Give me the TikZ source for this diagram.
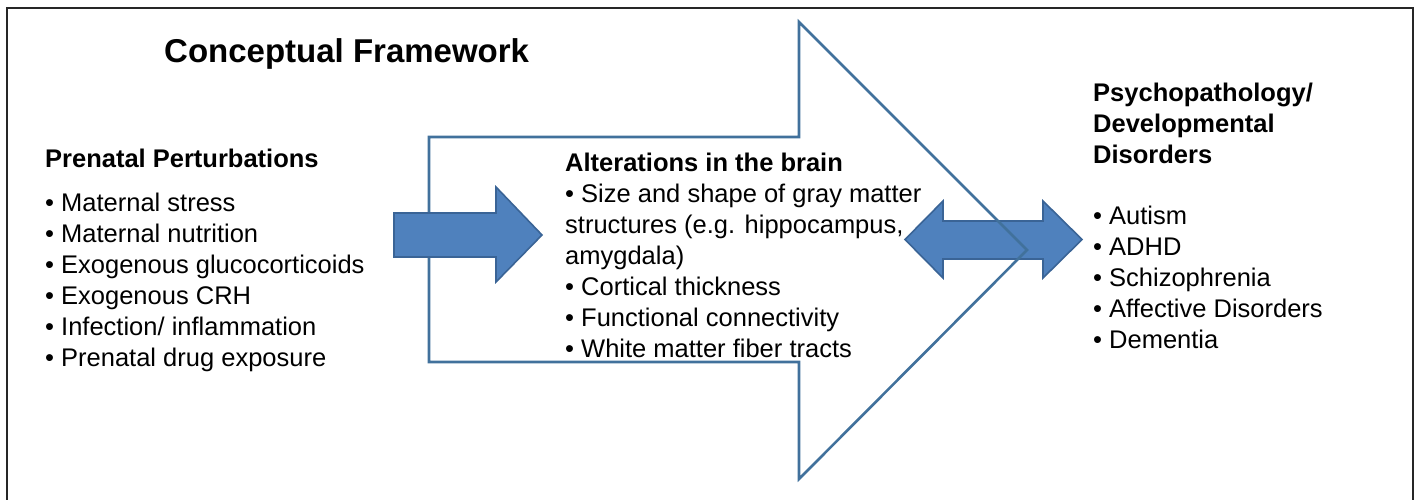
\documentclass[tikz,border=0pt]{standalone}
\usepackage{fontspec}
\setmainfont{Liberation Sans}
\definecolor{afill}{HTML}{4F81BD}
\definecolor{aline}{HTML}{3A6496}
\definecolor{oline}{HTML}{41719C}
\begin{document}
\begin{tikzpicture}[x=1pt,y=-1pt,
  txt/.style={anchor=base west,inner sep=0pt,font=\fontsize{25.5}{31}\selectfont},
  hd/.style={txt,font=\fontsize{25.5}{31}\selectfont\bfseries},
  fillarrow/.style={fill=afill,draw=aline,line width=1.6pt,line join=miter},
  bigarrow/.style={draw=oline,line width=2.6pt,line join=miter}]
\useasboundingbox (0,0) rectangle (1418,499);
\clip (0,0) rectangle (1418,499);
% frame
\draw[line width=2.6pt,black!85] (7,8) rectangle (1413,530);
% title
\node[anchor=base west,inner sep=0pt,font=\fontsize{33}{40}\selectfont\bfseries] (title) at (164,62) {Conceptual Framework};
% double arrow (behind big outline)
\draw[fillarrow] (905,239.5) -- (943,201) -- (943,221) -- (1043,221) -- (1043,201) -- (1082,239.5)
  -- (1043,278) -- (1043,259) -- (943,259) -- (943,278) -- cycle;
% big outline arrow
\draw[bigarrow] (429,137) -- (799,137) -- (799,22) -- (1027,250) -- (799,479) -- (799,362) -- (429,362) -- cycle;
% small arrow
\draw[fillarrow] (394,213) -- (496,213) -- (496,187) -- (542,235) -- (496,282) -- (496,257) -- (394,257) -- cycle;
% left column
\node[hd] (pp) at (45,167) {Prenatal Perturbations};
\node[txt] (pp1) at (45,211) {• Maternal stress};
\node[txt] (pp2) at (45,242) {• Maternal nutrition};
\node[txt] (pp3) at (45,273) {• Exogenous glucocorticoids};
\node[txt] (pp4) at (45,304) {• Exogenous CRH};
\node[txt] (pp5) at (45,335) {• Infection/ inflammation};
\node[txt] (pp6) at (45,366) {• Prenatal drug exposure};
% middle column
\node[hd] (ab) at (565,171) {Alterations in the brain};
\node[txt] (ab1) at (565,202) {• Size and shape of gray matter};
\node[txt] (ab2) at (565,233) {structures (e.g. hippocampus,};
\node[txt] (ab3) at (565,264) {amygdala)};
\node[txt] (ab4) at (565,295) {• Cortical thickness};
\node[txt] (ab5) at (565,326) {• Functional connectivity};
\node[txt] (ab6) at (565,357) {• White matter fiber tracts};
% right column
\node[hd] (ps1) at (1093,101) {Psychopathology/};
\node[hd] (ps2) at (1093,132) {Developmental};
\node[hd] (ps3) at (1093,163) {Disorders};
\node[txt] (pd1) at (1093,224) {• Autism};
\node[txt] (pd2) at (1093,255) {• ADHD};
\node[txt] (pd3) at (1093,286) {• Schizophrenia};
\node[txt] (pd4) at (1093,317) {• Affective Disorders};
\node[txt] (pd5) at (1093,348) {• Dementia};
\end{tikzpicture}
\end{document}
